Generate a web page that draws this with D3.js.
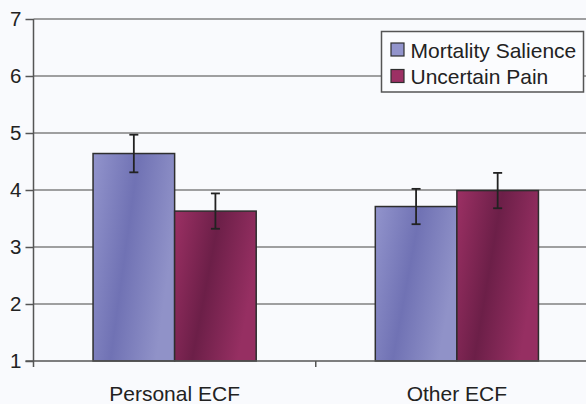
<!DOCTYPE html>
<html>
<head>
<meta charset="utf-8">
<script src="https://cdn.jsdelivr.net/npm/d3@7"></script>
<style>
  html, body { margin: 0; padding: 0; background: #f9fafd; }
  svg { display: block; font-family: "Liberation Sans", Arial, sans-serif; }
</style>
</head>
<body>
<svg id="chart" width="586" height="404"></svg>
<script>
const categories = ["Personal ECF", "Other ECF"];
const seriesNames = ["Mortality Salience", "Uncertain Pain"];
const mortalityValues = [4.64, 3.71];
const mortalityErrors = [0.33, 0.31];
const uncertainValues = [3.63, 3.99];
const uncertainErrors = [0.31, 0.31];
const yTicks = [1, 2, 3, 4, 5, 6, 7];

(function () {
const seriesValues = [mortalityValues, uncertainValues];
const seriesErrors = [mortalityErrors, uncertainErrors];

const svg = d3.select("#chart");
const W = 586;
const mLeft = 33.5, mRight = 598, mTop = 19, mBottom = 361;

const y = d3.scaleLinear().domain([1, 7]).range([mBottom, mTop]);
const x0 = d3.scaleBand().domain(categories).range([mLeft, mRight]).padding(0);
const x1 = d3.scaleBand().domain(seriesNames).range([0, x0.bandwidth()]).paddingInner(0).paddingOuter(0.73);

// gradients
const defs = svg.append("defs");
const gradColors = [
  ["#9294cc", "#7072b4", "#9092c8"],
  ["#9c3064", "#6c1f48", "#962f62"]
];
gradColors.forEach((c, i) => {
  const g = defs.append("linearGradient").attr("id", "g" + i)
    .attr("x1", "0").attr("y1", "0").attr("x2", "1").attr("y2", "0.35");
  g.append("stop").attr("offset", "0%").attr("stop-color", c[0]);
  g.append("stop").attr("offset", "50%").attr("stop-color", c[1]);
  g.append("stop").attr("offset", "100%").attr("stop-color", c[2]);
});

// gridlines
svg.append("g").selectAll("line").data(yTicks.filter(t => t > 1)).join("line")
  .attr("x1", mLeft).attr("x2", W)
  .attr("y1", d => y(d)).attr("y2", d => y(d))
  .attr("stroke", "#808080").attr("stroke-width", 1.5);

// y axis
const yAxis = d3.axisLeft(y).tickValues(yTicks).tickSize(8).tickPadding(4).tickFormat(d3.format("d"));
const yg = svg.append("g").attr("transform", `translate(${mLeft},0)`).call(yAxis);
yg.select(".domain").remove();
yg.selectAll(".tick line").attr("stroke", "#555").attr("stroke-width", 1.5);
yg.selectAll(".tick text").attr("font-size", 20.5).attr("fill", "#222")
  .attr("font-family", "Liberation Sans, Arial, sans-serif");
svg.append("line").attr("x1", mLeft).attr("x2", mLeft).attr("y1", mTop).attr("y2", mBottom + 6)
  .attr("stroke", "#555").attr("stroke-width", 1.5);

// bars
const groups = svg.append("g").selectAll("g").data(categories).join("g")
  .attr("transform", d => `translate(${x0(d)},0)`);
groups.each(function(cat, ci) {
  const g = d3.select(this);
  seriesNames.forEach((s, si) => {
    const v = seriesValues[si][ci];
    g.append("rect")
      .attr("x", x1(s)).attr("width", x1.bandwidth())
      .attr("y", y(v)).attr("height", y(1) - y(v))
      .attr("fill", `url(#g${si})`)
      .attr("stroke", "#2e2e2e").attr("stroke-width", 1.5);
  });
});

// x axis
svg.append("line").attr("x1", mLeft - 8).attr("x2", W).attr("y1", mBottom).attr("y2", mBottom)
  .attr("stroke", "#555").attr("stroke-width", 1.5);
const xAxis = d3.axisBottom(x0).tickSize(0).tickPadding(0);
const xg = svg.append("g").attr("transform", `translate(0,${mBottom})`).call(xAxis);
xg.select(".domain").remove();
xg.selectAll(".tick line").remove();
xg.selectAll(".tick text").attr("font-size", 21).attr("fill", "#222").attr("dy", null).attr("y", 40)
  .attr("font-family", "Liberation Sans, Arial, sans-serif");
svg.append("g").selectAll("line").data(categories.slice(1)).join("line")
  .attr("x1", d => x0(d)).attr("x2", d => x0(d))
  .attr("y1", mBottom).attr("y2", mBottom + 6)
  .attr("stroke", "#555").attr("stroke-width", 1.5);

// error bars
groups.each(function(cat, ci) {
  const g = d3.select(this);
  seriesNames.forEach((s, si) => {
    const v = seriesValues[si][ci], e = seriesErrors[si][ci];
    const cx = x1(s) + x1.bandwidth() / 2;
    const eg = g.append("g").attr("stroke", "#222").attr("stroke-width", 1.8);
    eg.append("line").attr("x1", cx).attr("x2", cx).attr("y1", y(v + e)).attr("y2", y(v - e));
    eg.append("line").attr("x1", cx - 4.5).attr("x2", cx + 4.5).attr("y1", y(v + e)).attr("y2", y(v + e));
    eg.append("line").attr("x1", cx - 4.5).attr("x2", cx + 4.5).attr("y1", y(v - e)).attr("y2", y(v - e));
  });
});

// legend
const lg = svg.append("g");
lg.append("rect").attr("x", 381.5).attr("y", 31.5).attr("width", 202).attr("height", 60.5)
  .attr("fill", "#fbfcfe").attr("stroke", "#555").attr("stroke-width", 1.5);
seriesNames.forEach((s, i) => {
  const yy = 43 + i * 26.5;
  lg.append("rect").attr("x", 391).attr("y", yy).attr("width", 13).attr("height", 13)
    .attr("fill", gradColors[i][0]).attr("stroke", "#2e2e2e").attr("stroke-width", 1.2);
  lg.append("text").attr("x", 410.5).attr("y", yy + 14.5).text(s)
    .attr("font-size", 21).attr("fill", "#222");
});
})();
</script>
</body>
</html>
